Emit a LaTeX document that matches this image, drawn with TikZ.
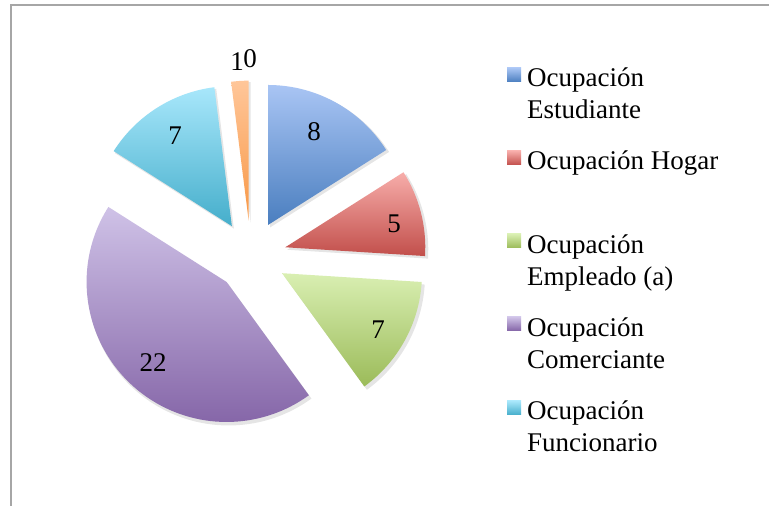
\documentclass[tikz,border=0pt]{standalone}
\usepackage{fontspec}
\setmainfont{Liberation Serif}
\definecolor{bluet}{HTML}{A9C5F4}\definecolor{blueb}{HTML}{4A7EBF}
\definecolor{redt}{HTML}{F7ADAA}\definecolor{redb}{HTML}{C24F4B}
\definecolor{greent}{HTML}{D9EFB2}\definecolor{greenb}{HTML}{9BBB59}
\definecolor{purplet}{HTML}{CFC2E7}\definecolor{purpleb}{HTML}{8363A6}
\definecolor{cyant}{HTML}{A8E7FB}\definecolor{cyanb}{HTML}{45AECB}
\definecolor{oranget}{HTML}{FFC699}\definecolor{orangeb}{HTML}{F89846}
\definecolor{framec}{HTML}{A6A6A6}
\tikzset{
  lbl/.style={inner sep=0pt, font=\fontsize{27}{32}\selectfont},
  legtxt/.style={inner sep=0pt, anchor=base west, font=\fontsize{27}{32}\selectfont},
  frameline/.style={draw=framec, line width=1.5pt},
}
\newcommand\pieslice[5]{%
  \pgfmathsetmacro\midang{(#1+#2)/2}
  \coordinate (#5) at ([shift={(\midang:35.5)}]C);
  \fill[black,opacity=0.10] ([shift={(2,-2.5)}]#5) -- ++(#1:141) arc[start angle=#1,end angle=#2,radius=141] -- cycle;
  \shade[top color=#3,bottom color=#4] (#5) -- ++(#1:140) arc[start angle=#1,end angle=#2,radius=140] -- cycle;
}
\begin{document}
\begin{tikzpicture}[x=1pt,y=1pt]
\useasboundingbox (0,0) rectangle (769,506);
\fill[white] (0,0) rectangle (769,506);
\draw[frameline] (11,0) -- (11,501) -- (769,501);
\coordinate (C) at (250.9,249.9);
\pieslice{32.4}{90}{bluet}{blueb}{sBlue}
\pieslice{-3.6}{32.4}{redt}{redb}{sRed}
\pieslice{-54}{-3.6}{greent}{greenb}{sGreen}
\pieslice{147.6}{306}{purplet}{purpleb}{sPurple}
\pieslice{97.2}{147.6}{cyant}{cyanb}{sCyan}
\pieslice{90}{97.2}{oranget}{orangeb}{sOrange}
% data labels
\node[lbl] (vBlue) at (314,374) {8};
\node[lbl] (vRed) at (394,282) {5};
\node[lbl] (vGreen) at (378,176) {7};
\node[lbl] (vPurple) at (153,143) {22};
\node[lbl] (vCyan) at (175,370) {7};
\node[lbl] (vOrange) at (237,444.5) {1};
\node[lbl] (vZero) at (250,447) {0};
% legend
\shade[top color=bluet,bottom color=blueb] (507,424) rectangle (521,438);
\shade[top color=redt,bottom color=redb] (507,341) rectangle (521,355);
\shade[top color=greent,bottom color=greenb] (507,258) rectangle (521,272);
\shade[top color=purplet,bottom color=purpleb] (507,175) rectangle (521,189);
\shade[top color=cyant,bottom color=cyanb] (507,91) rectangle (521,105);
\node[legtxt] (l1a) at (527,419) {Ocupación};
\node[legtxt] (l1b) at (527,387) {Estudiante};
\node[legtxt] (l2a) at (527,336) {Ocupación Hogar};
\node[legtxt] (l3a) at (527,252) {Ocupación};
\node[legtxt] (l3b) at (527,220) {Empleado (a)};
\node[legtxt] (l4a) at (527,169) {Ocupación};
\node[legtxt] (l4b) at (527,137) {Comerciante};
\node[legtxt] (l5a) at (527,86) {Ocupación};
\node[legtxt] (l5b) at (527,54) {Funcionario};
\end{tikzpicture}
\end{document}
